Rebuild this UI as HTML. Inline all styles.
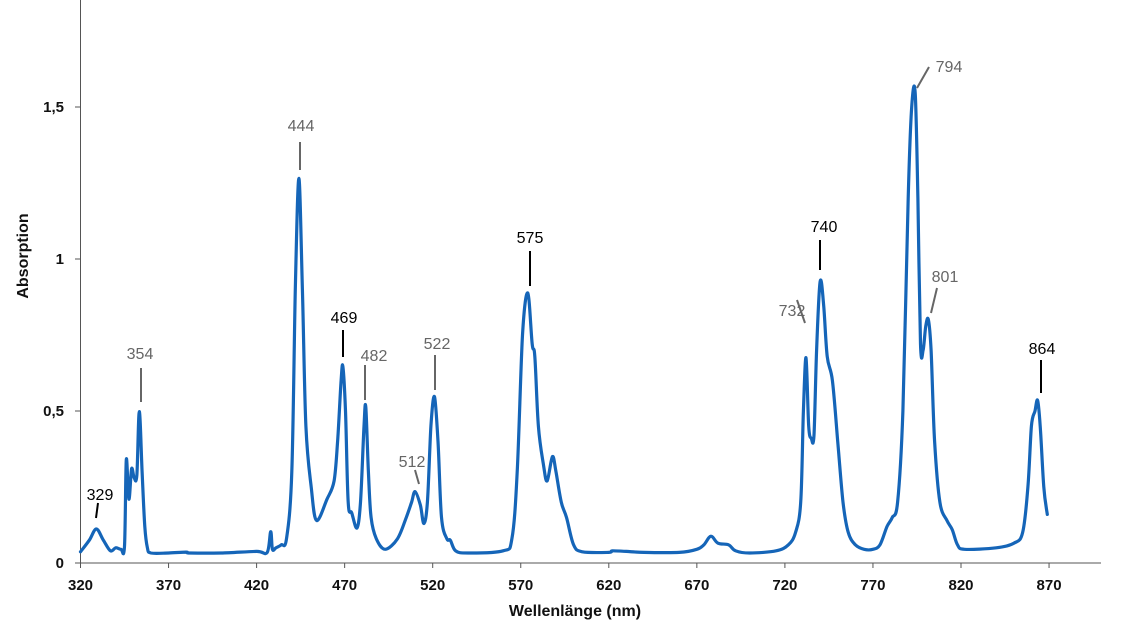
<!DOCTYPE html>
<html><head><meta charset="utf-8"><style>
body{margin:0;background:#fff;}
svg{display:block;font-family:"Liberation Sans",Arial,sans-serif;}
</style></head><body>
<svg id="chart" width="1130" height="635" viewBox="0 0 1130 635" xmlns="http://www.w3.org/2000/svg"></svg>
<script>
const wavelengths=[320,325,329,333,337,340,343,345,346,347.5,349,350.5,352,353.4,355,356.5,358,360,370,380,382,400,420,426,428,429,431,434,437,440,442,444,446,448,451,454,460,464,466,468,469,470.5,472,474,477,479,481,482,483.5,485,488,493,500,505,508,510,513,515,517,519,521,523,525,528,530,533,540,560,565,568,571,574,576.5,578,580,583,585,588,590,593,596,600,605,620,622,630,640,660,670,674,678,682,688,692,700,715,722,726,729,730.5,732,733.5,735,736.5,738,740,742,744,747,750,753,756,760,765,770,774,778,781,784,787,790,792,794,795.5,797,798.5,800,801.5,803,805,808,812,815,818,822,840,850,855,858,860,862,863.5,865,867,869];
const absorbance=[0.037,0.075,0.112,0.075,0.04,0.05,0.045,0.055,0.34,0.21,0.31,0.28,0.29,0.498,0.3,0.12,0.05,0.033,0.033,0.036,0.033,0.033,0.038,0.035,0.103,0.045,0.05,0.06,0.08,0.3,0.9,1.265,0.9,0.45,0.25,0.14,0.21,0.27,0.4,0.6,0.646,0.5,0.2,0.165,0.115,0.2,0.45,0.513,0.3,0.15,0.08,0.045,0.08,0.15,0.2,0.235,0.19,0.13,0.2,0.45,0.547,0.4,0.15,0.08,0.075,0.04,0.033,0.04,0.08,0.3,0.75,0.888,0.72,0.68,0.45,0.32,0.27,0.35,0.3,0.2,0.15,0.06,0.037,0.035,0.04,0.038,0.035,0.035,0.045,0.06,0.088,0.065,0.06,0.04,0.033,0.04,0.06,0.1,0.2,0.5,0.675,0.45,0.41,0.42,0.7,0.925,0.85,0.68,0.6,0.4,0.2,0.1,0.06,0.045,0.045,0.06,0.12,0.15,0.2,0.5,1.2,1.5,1.546,1.2,0.72,0.7,0.78,0.8,0.7,0.4,0.2,0.14,0.11,0.06,0.045,0.05,0.065,0.1,0.25,0.45,0.5,0.535,0.45,0.25,0.16];
const xTicks=[320,370,420,470,520,570,620,670,720,770,820,870];
const yTicks=[0,0.5,1,1.5];
const yTickLabels=["0","0,5","1","1,5"];
const peakLabels=["329","354","444","469","482","512","522","575","732","740","794","801","864"];
const peakDark=[true,false,false,true,false,false,false,true,false,true,false,false,true];
// label placement (layout, not data): text x,y and leader line
const labelLayout=[[100,500,98,503,96,518],[140,359,141,368,141,402],[301,131,300,142,300,170],[344,323,343,330,343,357],[374,361,365,365,365,400],[412,467,415,470,419,484],[437,349,435,355,435,390],[530,243,530,251,530,286],[792,316,797,300,805,323],[824,232,820,240,820,270],[949,72,929,67,917,88],[945,282,937,288,931,313],[1042,354,1041,360,1041,393]];

const svg=document.getElementById('chart');
const NS='http://www.w3.org/2000/svg';
const X=nm=>80.5+(nm-320)*1.761;
const Y=a=>563-a*304;
function mk(tag,attrs,text){const e=document.createElementNS(NS,tag);for(const k in attrs)e.setAttribute(k,attrs[k]);if(text!==undefined)e.textContent=text;svg.appendChild(e);return e;}

let ax=mk('line',{x1:80.5,y1:0,x2:80.5,y2:563,stroke:'#555','stroke-width':1});


let ax2=mk('line',{x1:80.5,y1:563,x2:1101,y2:563,stroke:'#555','stroke-width':1});



xTicks.forEach(t=>{
 const tk=mk('line',{x1:X(t),y1:563,x2:X(t),y2:568,stroke:'#555'});
 
 
 const l=mk('text',{x:X(t),y:590,'text-anchor':'middle','font-size':15,'font-weight':'bold',fill:'#111'},String(t));
 
 
});
yTicks.forEach((t,i)=>{
 const tk=mk('line',{x1:75,y1:Y(t),x2:80.5,y2:Y(t),stroke:'#555'});
 
 
 const l=mk('text',{x:64,y:Y(t)+5,'text-anchor':'end','font-size':15,'font-weight':'bold',fill:'#111'},yTickLabels[i]);
 
 
});
let xt=mk('text',{x:575,y:616,'text-anchor':'middle','font-size':16,'font-weight':'bold',fill:'#111'},'Wellenlänge (nm)');


let yt=mk('text',{x:0,y:0,transform:'translate(28,256) rotate(-90)','text-anchor':'middle','font-size':16,'font-weight':'bold',fill:'#111'},'Absorption');



// Catmull-Rom smooth path
const pts=wavelengths.map((w,i)=>[X(w),Y(absorbance[i])]);
let d='M'+pts[0][0].toFixed(1)+','+pts[0][1].toFixed(1);
for(let i=0;i<pts.length-1;i++){
 const p0=pts[Math.max(0,i-1)],p1=pts[i],p2=pts[i+1],p3=pts[Math.min(pts.length-1,i+2)];
 const c1=[p1[0]+(p2[0]-p0[0])/6,p1[1]+(p2[1]-p0[1])/6];
 const c2=[p2[0]-(p3[0]-p1[0])/6,p2[1]-(p3[1]-p1[1])/6];
 d+=' C'+c1[0].toFixed(1)+','+c1[1].toFixed(1)+' '+c2[0].toFixed(1)+','+c2[1].toFixed(1)+' '+p2[0].toFixed(1)+','+p2[1].toFixed(1);
}
const line=mk('path',{d:d,fill:'none',stroke:'#1565b8','stroke-width':3.2,'stroke-linejoin':'round','stroke-linecap':'round'});



peakLabels.forEach((p,i)=>{
 const L=labelLayout[i];const c=peakDark[i]?'#000':'#666';
 const ln=mk('line',{x1:L[2],y1:L[3],x2:L[4],y2:L[5],stroke:c,'stroke-width':2});
 
 
 const t=mk('text',{x:L[0],y:L[1],'text-anchor':'middle','font-size':16,fill:c},p);
 
 
});
</script>
</body></html>
